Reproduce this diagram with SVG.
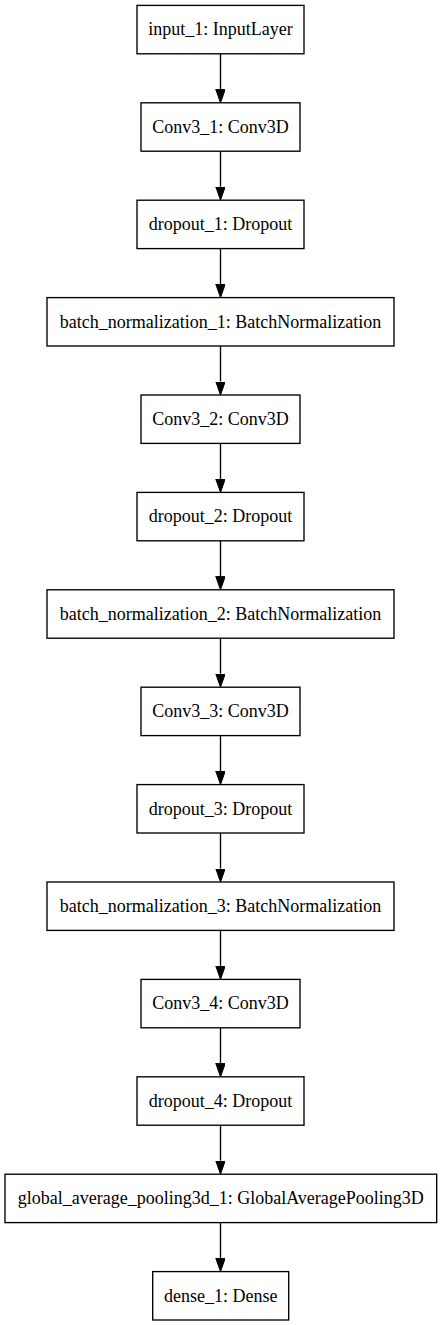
<svg xmlns="http://www.w3.org/2000/svg" width="441" height="1325" viewBox="0 0 441 1325">
<style>
.box{fill:#fff;stroke:#000;stroke-width:1.35}
.lbl{font-family:"Liberation Serif","Times New Roman",serif;font-size:18px;fill:#000;text-anchor:middle}
.edge{stroke:#000;stroke-width:1.35;fill:none}
</style>
<defs>
<marker id="ah" markerUnits="userSpaceOnUse" markerWidth="14" markerHeight="10" refX="0" refY="4.75" orient="auto">
<path d="M0,0 L13.5,4.75 L0,9.5 Z" fill="#000" stroke="#000" stroke-width="1"/>
</marker>
</defs>
<rect width="441" height="1325" fill="#fff"/>
<g id="edges">
<line class="edge" x1="220.5" y1="53.8" x2="220.5" y2="89.3" marker-end="url(#ah)"/>
<line class="edge" x1="220.5" y1="151.2" x2="220.5" y2="186.7" marker-end="url(#ah)"/>
<line class="edge" x1="220.5" y1="248.6" x2="220.5" y2="284.1" marker-end="url(#ah)"/>
<line class="edge" x1="220.5" y1="346.0" x2="220.5" y2="381.5" marker-end="url(#ah)"/>
<line class="edge" x1="220.5" y1="443.4" x2="220.5" y2="478.9" marker-end="url(#ah)"/>
<line class="edge" x1="220.5" y1="540.8" x2="220.5" y2="576.3" marker-end="url(#ah)"/>
<line class="edge" x1="220.5" y1="638.2" x2="220.5" y2="673.7" marker-end="url(#ah)"/>
<line class="edge" x1="220.5" y1="735.6" x2="220.5" y2="771.1" marker-end="url(#ah)"/>
<line class="edge" x1="220.5" y1="833.0" x2="220.5" y2="868.5" marker-end="url(#ah)"/>
<line class="edge" x1="220.5" y1="930.4" x2="220.5" y2="965.9" marker-end="url(#ah)"/>
<line class="edge" x1="220.5" y1="1027.8" x2="220.5" y2="1063.3" marker-end="url(#ah)"/>
<line class="edge" x1="220.5" y1="1125.2" x2="220.5" y2="1160.7" marker-end="url(#ah)"/>
<line class="edge" x1="220.5" y1="1222.6" x2="220.5" y2="1258.1" marker-end="url(#ah)"/>
</g>
<g id="input_1"><rect class="box" x="137" y="5.4" width="167" height="48.4"/><text class="lbl" x="220.5" y="35.4">input_1: InputLayer</text></g>
<g id="Conv3_1"><rect class="box" x="141" y="102.8" width="159" height="48.4"/><text class="lbl" x="220.5" y="132.8">Conv3_1: Conv3D</text></g>
<g id="dropout_1"><rect class="box" x="137" y="200.2" width="167" height="48.4"/><text class="lbl" x="220.5" y="230.2">dropout_1: Dropout</text></g>
<g id="batch_normalization_1"><rect class="box" x="47" y="297.6" width="347" height="48.4"/><text class="lbl" x="220.5" y="327.6">batch_normalization_1: BatchNormalization</text></g>
<g id="Conv3_2"><rect class="box" x="141" y="395.0" width="159" height="48.4"/><text class="lbl" x="220.5" y="425.0">Conv3_2: Conv3D</text></g>
<g id="dropout_2"><rect class="box" x="137" y="492.4" width="167" height="48.4"/><text class="lbl" x="220.5" y="522.4">dropout_2: Dropout</text></g>
<g id="batch_normalization_2"><rect class="box" x="47" y="589.8" width="347" height="48.4"/><text class="lbl" x="220.5" y="619.8">batch_normalization_2: BatchNormalization</text></g>
<g id="Conv3_3"><rect class="box" x="141" y="687.2" width="159" height="48.4"/><text class="lbl" x="220.5" y="717.2">Conv3_3: Conv3D</text></g>
<g id="dropout_3"><rect class="box" x="137" y="784.6" width="167" height="48.4"/><text class="lbl" x="220.5" y="814.6">dropout_3: Dropout</text></g>
<g id="batch_normalization_3"><rect class="box" x="47" y="882.0" width="347" height="48.4"/><text class="lbl" x="220.5" y="912.0">batch_normalization_3: BatchNormalization</text></g>
<g id="Conv3_4"><rect class="box" x="141" y="979.4" width="159" height="48.4"/><text class="lbl" x="220.5" y="1009.4">Conv3_4: Conv3D</text></g>
<g id="dropout_4"><rect class="box" x="137" y="1076.8" width="167" height="48.4"/><text class="lbl" x="220.5" y="1106.8">dropout_4: Dropout</text></g>
<g id="global_average_pooling3d_1"><rect class="box" x="5" y="1174.2" width="431.7" height="48.4"/><text class="lbl" x="220.8" y="1204.2">global_average_pooling3d_1: GlobalAveragePooling3D</text></g>
<g id="dense_1"><rect class="box" x="152.7" y="1271.6" width="136" height="48.4"/><text class="lbl" x="220.7" y="1301.6">dense_1: Dense</text></g>
</svg>
